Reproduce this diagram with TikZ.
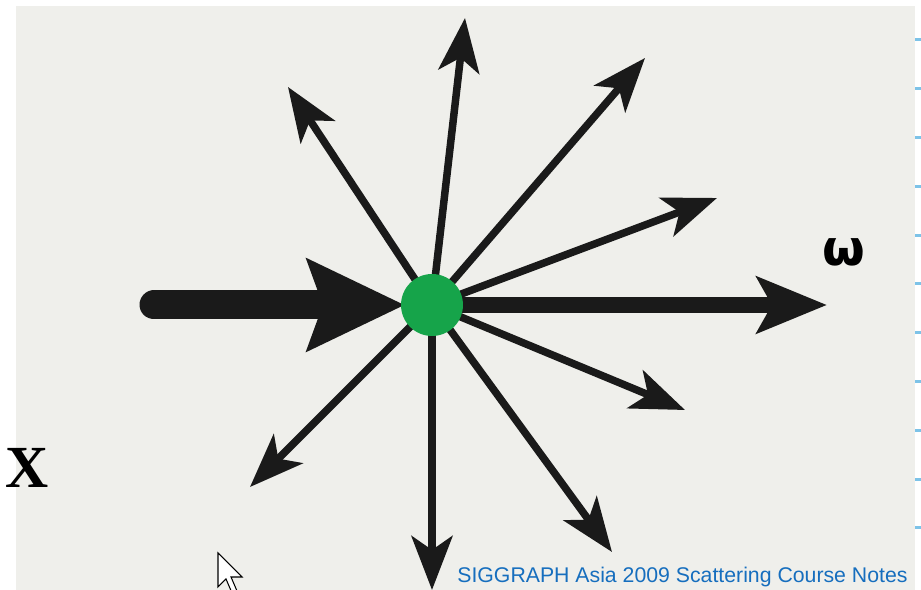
\documentclass[tikz,border=0pt]{standalone}
\usepackage{fontspec}
\setmainfont{Liberation Serif}
\newfontfamily\notefont{Liberation Sans}
\newfontfamily\omegafont{DejaVu Sans}
\usetikzlibrary{arrows.meta}

\definecolor{photo}{RGB}{239,239,235}
\definecolor{ink}{RGB}{26,26,26}
\definecolor{dotgreen}{RGB}{22,164,74}
\definecolor{noteblue}{RGB}{22,110,190}
\definecolor{tickblue}{RGB}{125,195,232}

\tikzset{
  thinray/.style={ink, line width=0.15cm, -{Stealth[length=1.08cm, width=0.82cm, inset=0.28cm]}},
  outray/.style={ink, line width=0.32cm, -{Stealth[length=1.4cm, width=1.12cm, inset=0.3cm]}},
  inray/.style={ink, line width=0.58cm, line cap=round, -{Stealth[length=1.94cm, width=1.8cm, inset=0.3cm]}},
  tick/.style={tickblue, line width=0.06cm}
}

\begin{document}
\begin{tikzpicture}[x=0.02cm, y=-0.02cm]
  \useasboundingbox (0,0) rectangle (921,590);
  \fill[white] (0,0) rectangle (921,590);
  \fill[photo] (16,6) rectangle (915,590);

  \coordinate (O) at (432,305);
  \coordinate (In) at (154,305);
  \coordinate (InTip) at (405,305);
  \coordinate (Out) at (827,305);

  % scattered directions
  \foreach \tip in {(465,18), (288,87), (645,58), (717,198),
                    (685,410), (612,552), (432,590), (250,487)}
    \draw[thinray] (O) -- \tip;

  \draw[outray] (O) -- (Out);
  \draw[inray] (In) -- (InTip);

  \node[circle, fill=dotgreen, minimum size=1.24cm, inner sep=0pt] (dot) at (O) {};

  \node[font=\omegafont\bfseries\fontsize{28}{28}\selectfont] (omega) at (844,252) {ω};
  \node[font=\bfseries\fontsize{34}{34}\selectfont] (X) at (27,468) {X};

  % margin ticks
  \foreach \k in {0,...,10}
    \draw[tick] (915,40+48.8*\k) -- (921,40+48.8*\k);

  \node[anchor=base west, inner sep=0pt, text=noteblue,
        font=\notefont\fontsize{12.1}{13}\selectfont] (note) at (457,583)
    {SIGGRAPH Asia 2009 Scattering Course Notes};

  % pointer
  \begin{scope}
    \clip (0,0) rectangle (921,590);
    \draw[fill=white, line width=0.6pt, line join=miter]
      (218,553) -- ++(0,34) -- ++(8,-8) -- ++(6,14) -- ++(5,-2)
      -- ++(-6,-14) -- ++(11,0) -- cycle;
  \end{scope}
\end{tikzpicture}
\end{document}
